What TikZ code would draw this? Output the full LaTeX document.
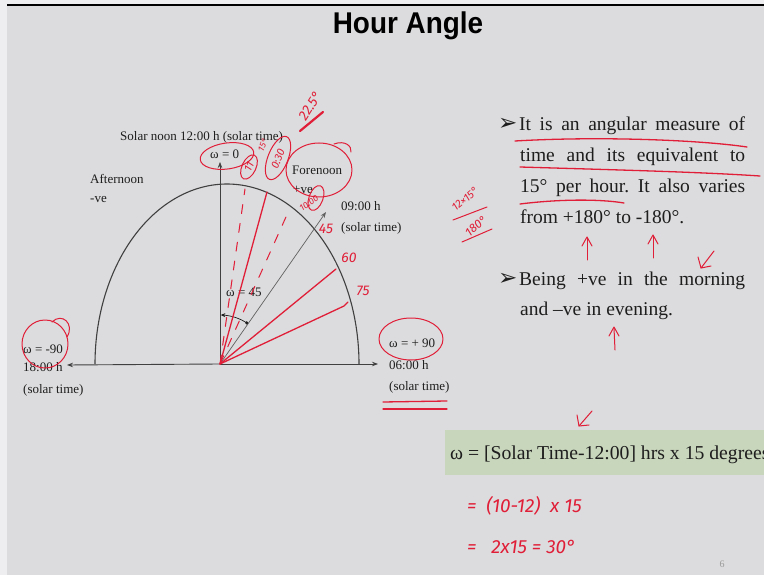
\documentclass[tikz,border=0pt]{standalone}
\usepackage{fontspec}
\setmainfont{Liberation Serif}
\newfontfamily\titlefont{Liberation Sans}
\newfontfamily\symfont{DejaVu Sans}
\newfontfamily\hand{Fira Sans}
\usetikzlibrary{arrows.meta,calc}
\definecolor{bg}{RGB}{220,220,222}
\definecolor{edge}{RGB}{238,238,240}
\definecolor{penred}{RGB}{224,30,55}
\definecolor{boxgreen}{RGB}{200,214,188}
\definecolor{ink}{RGB}{30,30,30}
\tikzset{
  axis/.style={draw=ink!85, line width=0.9pt},
  tipb/.style={-{Stealth[length=6pt,width=4.5pt]}},
  lbl/.style={font=\fontsize{13}{15}\selectfont, text=ink, inner sep=0pt, anchor=base west},
  body/.style={font=\fontsize{19.5}{31}\selectfont, text=ink, inner sep=0pt, anchor=base west},
  bulletsty/.style={font=\symfont\fontsize{23}{23}\selectfont, text=ink, inner sep=0pt, anchor=base west},
  pen/.style={draw=penred, line width=1.3pt, line cap=round, line join=round},
  penthin/.style={draw=penred, line width=1pt, line cap=round, line join=round},
  hw/.style={text=penred, font=\hand\itshape\fontsize{14}{16}\selectfont, inner sep=0pt},
  hwbig/.style={text=penred, font=\hand\itshape\fontsize{19}{22}\selectfont, inner sep=0pt, anchor=base west},
}
\frenchspacing
\begin{document}
\begin{tikzpicture}[x=1pt,y=-1pt]
\useasboundingbox (0,0) rectangle (764,575);
% slide background
\fill[edge] (0,0) rectangle (764,575);
\fill[bg] (7,6) rectangle (764,575);
\fill[black] (7,4.5) rectangle (764,6.5);

% title
\node[font=\titlefont\bfseries\fontsize{30}{32}\selectfont, inner sep=0pt, anchor=base, xscale=0.93] (title) at (408,34) {Hour Angle};

% ---------- diagram ----------
\coordinate (O) at (220,364);
\coordinate (W) at (67,365);
\coordinate (E) at (378,364);
\coordinate (N) at (220,162);
\coordinate (R9) at (326,212);

\draw[axis, line width=1.1pt] plot[domain=0:180, samples=120] ({227+132*cos(\x)},{364-180*sin(\x)});
\draw[axis, tipb] (O) -- (W);
\draw[axis, tipb] (O) -- (E);
\draw[axis, line width=0.7pt, tipb] (O) -- (N);
\draw[draw=ink!70, line width=0.7pt, tipb] (O) -- (R9);

% angle mark
\draw[draw=ink, line width=0.7pt, -{Stealth[length=4.5pt,width=4pt]}] plot[domain=57:89, samples=30] ({220+49*cos(\x)},{364-49*sin(\x)});
\fill[ink] (246.7,322.9) circle (1.7);

% diagram labels
\node[lbl] (noon) at (120,141) {Solar noon 12:00 h (solar time)};
\node[lbl] (w0) at (210,159) {ω = 0};
\node[lbl] (aft) at (90,184) {Afternoon};
\node[lbl] (aftve) at (90,203) {-ve};
\node[lbl] (fore) at (292,175) {Forenoon};
\node[lbl] (forve) at (293,194) {+ve};
\node[lbl] (t9) at (341,211) {09:00 h};
\node[lbl] (t9s) at (341,232) {(solar time)};
\node[lbl] (w45) at (226,297) {ω = 45};
\node[lbl] (wm90) at (23,353) {ω = -90};
\node[lbl] (t18) at (23,371) {18:00 h};
\node[lbl] (t18s) at (23,393) {(solar time)};
\node[lbl] (wp90) at (389,347) {ω = + 90};
\node[lbl] (t6) at (389,369) {06:00 h};
\node[lbl] (t6s) at (389,390) {(solar time)};

% ---------- red hand annotations on diagram ----------
\draw[pen] (O) -- (267,192);
\draw[pen] (O) -- (336,269);
\draw[pen] (O) -- (344,306) -- (348,302);
\draw[penthin, dash pattern=on 9pt off 10pt] (O) -- (245,189);
\draw[penthin, dash pattern=on 9pt off 10pt] (O) -- (290,208);

\draw[penthin, rotate around={8:(227,156)}] (227,156) ellipse [x radius=27, y radius=13];
\draw[penthin, rotate around={-25:(249,167)}] (249,167) ellipse [x radius=7, y radius=13];
\node[hw, rotate=65, font=\hand\itshape\fontsize{11}{12}\selectfont] (h11) at (249,167) {11};
\node[hw, rotate=65, font=\hand\itshape\fontsize{9}{10}\selectfont] (h15) at (263,145) {15°};
\draw[penthin, rotate around={-22:(278,158)}] (278,158) ellipse [x radius=10, y radius=23];
\node[hw, rotate=68, font=\hand\itshape\fontsize{11}{12}\selectfont] (h1030) at (278,159) {0:30};
\node[hw, rotate=58, font=\hand\itshape\fontsize{14}{15}\selectfont] (h225) at (310,106) {22.5°};
\draw[draw=penred, line width=2.2pt, line cap=round] (300,131) -- (323,112);
\draw[penthin] (319,170) ellipse [x radius=33, y radius=27];
\draw[penthin] (334,144) .. controls (345,140) and (352,146) .. (351,152);
\draw[penthin, rotate around={-20:(316,198)}] (316,198) ellipse [x radius=7, y radius=13];
\node[hw, rotate=35, font=\hand\itshape\fontsize{9}{10}\selectfont] (h1000) at (309,203) {10:00};
\node[hw] (h45) at (326,229) {45};
\node[hw] (h60) at (349,258) {60};
\node[hw] (h75) at (363,291) {75};

\draw[penthin] (45,344) ellipse [x radius=23, y radius=24];
\draw[penthin] (52,322) .. controls (62,312) and (75,324) .. (67,337);
\draw[penthin] (411,339) ellipse [x radius=32, y radius=21];
\draw[pen] (383,402) -- (447,401);
\draw[pen] (383,409) -- (447,409);

% ---------- right text ----------
\node[bulletsty] (bul1) at (498,131) {➢};
\node[body] (l1) at (519,131) {\makebox[226pt][s]{It is an angular measure of}};
\node[body] (l2) at (520,162) {\makebox[225pt][s]{time and its equivalent to}};
\node[body] (l3) at (520,193) {\makebox[225pt][s]{15° per hour. It also varies}};
\node[body] (l4) at (520,224) {from +180° to -180°.};
\node[bulletsty] (bul2) at (498,285) {➢};
\node[body] (l5) at (519,285) {\makebox[226pt][s]{Being +ve in the morning}};
\node[body] (l6) at (520,315) {and –ve in evening.};

% red marks on the right text
\draw[pen] (515,141) .. controls (600,136) and (700,140) .. (747,147);
\draw[pen] (520,167) .. controls (620,170) and (700,172) .. (760,176);
\draw[pen] (520,204) .. controls (560,199) and (600,199) .. (624,203);
\node[hw, rotate=40, font=\hand\itshape\fontsize{11}{12}\selectfont] (h1215) at (465,199) {12×15°};
\draw[penthin] (453,220) -- (487,207);
\node[hw, rotate=40, font=\hand\itshape\fontsize{12}{13}\selectfont] (h180) at (476,226) {180°};
\draw[penthin] (462,242) -- (492,229);
\draw[penthin] (587,260) -- (587,238);
\draw[penthin] (582,246) -- (587,237) -- (592,246);
\draw[penthin] (653,258) -- (653,236);
\draw[penthin] (648,244) -- (653,235) -- (658,244);
\draw[penthin] (714,251) -- (701,268);
\draw[penthin] (698,257) -- (701,268) -- (711,266);
\draw[penthin] (615,350) -- (614,328);
\draw[penthin] (609,336) -- (614,327) -- (619,336);
\draw[penthin] (592,411) -- (579,426);
\draw[penthin] (577,415) -- (579,426) -- (589,425);

% ---------- formula box ----------
\fill[boxgreen] (445,430) rectangle (764,475);
\node[body, font=\fontsize{19.7}{22}\selectfont] (formula) at (450,459) {ω = [Solar Time-12:00] hrs x 15 degrees};

\node[hwbig] (calc1) at (467,512) {=\ \ (10-12)\ \ x 15};
\node[hwbig] (calc2) at (467,553) {=\ \ \ 2x15 = 30°};

\node[font=\fontsize{10}{12}\selectfont, text=ink!45, inner sep=0pt, anchor=base] (pg) at (722,567) {6};
\end{tikzpicture}
\end{document}
